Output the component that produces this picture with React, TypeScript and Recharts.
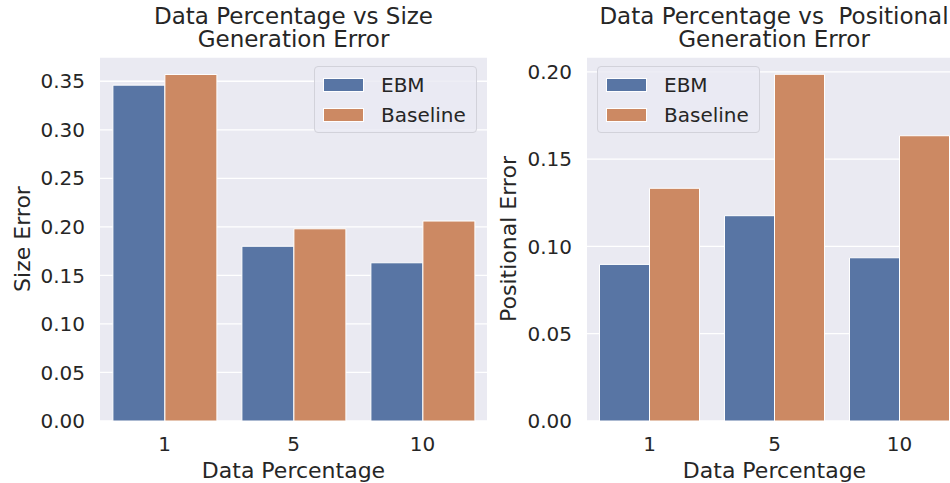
import React from 'react';
import {
  BarChart,
  Bar,
  XAxis,
  YAxis,
  CartesianGrid,
  Label,
} from 'recharts';

// Data
const categories = ['1', '5', '10'];
const sizeEbm = [0.346, 0.18, 0.163];
const sizeBaseline = [0.357, 0.198, 0.206];
const posEbm = [0.0897, 0.1176, 0.0935];
const posBaseline = [0.1333, 0.1986, 0.1634];
const sizeTicks = [0, 0.05, 0.1, 0.15, 0.2, 0.25, 0.3, 0.35];
const posTicks = [0, 0.05, 0.1, 0.15, 0.2];
const seriesNames = ['EBM', 'Baseline'];

const FONT = '"DejaVu Sans", sans-serif';
const TEXT = '#262626';
const BG = '#EAEAF2';
const BLUE = '#5875A4';
const ORANGE = '#CC8963';
const COLORS = [BLUE, ORANGE];

const sizeData = categories.map((c, i) => ({
  name: c,
  EBM: sizeEbm[i],
  Baseline: sizeBaseline[i],
}));
const posData = categories.map((c, i) => ({
  name: c,
  EBM: posEbm[i],
  Baseline: posBaseline[i],
}));

// seaborn-like boxed legend, drawn over the plot
const LegendBox = ({ left }: { left: number }) => (
  <div
    style={{
      position: 'absolute',
      left,
      top: 66,
      width: 163,
      height: 67,
      boxSizing: 'border-box',
      border: '1px solid #d2d2da',
      borderRadius: 4,
      background: 'rgba(234,234,242,0.8)',
      paddingTop: 3,
      fontFamily: FONT,
      fontSize: 20,
      color: TEXT,
    }}
  >
    {seriesNames.map((name, i) => (
      <div key={name} style={{ height: 30, display: 'flex', alignItems: 'center' }}>
        <span
          style={{
            display: 'inline-block',
            width: 41,
            height: 14,
            marginLeft: 8,
            marginRight: 17,
            background: COLORS[i],
            border: '1px solid #fff',
            boxSizing: 'border-box',
          }}
        />
        <span>{name}</span>
      </div>
    ))}
  </div>
);

const tickStyle = { fontSize: 20, fill: TEXT, fontFamily: FONT };
const labelStyle = {
  fontSize: 22,
  fill: TEXT,
  fontFamily: FONT,
  textAnchor: 'middle' as const,
};

function Panel({
  data,
  ticks,
  domainMax,
  yLabel,
  yAxisWidth,
  yLabelOffset,
  width,
}: {
  data: any[];
  ticks: number[];
  domainMax: number;
  yLabel: string;
  yAxisWidth: number;
  yLabelOffset: number;
  width: number;
}) {
  return (
    <BarChart
      width={width}
      height={483}
      data={data}
      margin={{ top: 57, right: 0, bottom: 0, left: 0 }}
      barCategoryGap="10%"
      barGap={0}
    >
      <CartesianGrid vertical={false} fill={BG} stroke="#fff" strokeWidth={1.3} />
      <XAxis
        dataKey="name"
        height={62}
        axisLine={false}
        tickLine={false}
        tickSize={0}
        tickMargin={16}
        tick={tickStyle}
      >
        <Label value="Data Percentage" position="insideBottom" offset={5} style={labelStyle} />
      </XAxis>
      <YAxis
        width={yAxisWidth}
        domain={[0, domainMax]}
        ticks={ticks}
        interval={0}
        allowDataOverflow
        axisLine={false}
        tickLine={false}
        tickSize={0}
        tickMargin={15}
        tick={tickStyle}
        tickFormatter={(v: number) => v.toFixed(2)}
      >
        <Label
          value={yLabel}
          angle={-90}
          position="insideLeft"
          offset={yLabelOffset}
          style={labelStyle}
        />
      </YAxis>
      {seriesNames.map((name, i) => (
        <Bar
          key={name}
          dataKey={name}
          fill={COLORS[i]}
          stroke="#fff"
          strokeWidth={1}
          isAnimationActive={false}
        />
      ))}
    </BarChart>
  );
}

const titleStyle: React.CSSProperties = {
  position: 'absolute',
  top: 5,
  fontFamily: FONT,
  fontSize: 23,
  lineHeight: '23px',
  color: TEXT,
  textAlign: 'center',
  whiteSpace: 'pre',
  width: 500,
};

export default function App() {
  return (
    <div
      style={{
        position: 'fixed',
        left: 0,
        top: 0,
        width: 950,
        height: 483,
        overflow: 'hidden',
        background: '#fff',
      }}
    >
      <div style={{ position: 'absolute', left: 0, top: 0 }}>
        <Panel
          data={sizeData}
          ticks={sizeTicks}
          domainMax={0.375}
          yLabel="Size Error"
          yAxisWidth={100}
          yLabelOffset={22}
          width={487}
        />
      </div>
      <div style={{ position: 'absolute', left: 490, top: 0 }}>
        <Panel
          data={posData}
          ticks={posTicks}
          domainMax={0.2085}
          yLabel="Positional Error"
          yAxisWidth={97}
          yLabelOffset={18}
          width={472}
        />
      </div>
      <LegendBox left={314} />
      <LegendBox left={597} />
      <div style={{ ...titleStyle, left: 293.5 - 250 }}>
        {'Data Percentage vs Size\nGeneration Error'}
      </div>
      <div style={{ ...titleStyle, left: 774 - 250 }}>
        {'Data Percentage vs  Positional\nGeneration Error'}
      </div>
    </div>
  );
}
